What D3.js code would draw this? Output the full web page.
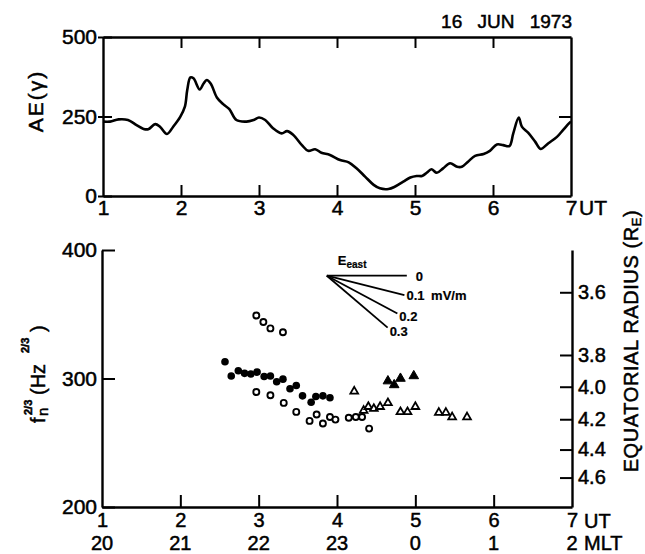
<!DOCTYPE html>
<html>
<head>
<meta charset="utf-8">
<script src="https://cdn.jsdelivr.net/npm/d3@7"></script>
<style>
  html, body { margin: 0; padding: 0; background: #fff; }
  svg { display: block; }
  text { font-family: "Liberation Sans", Arial, sans-serif; fill: #000; stroke: #000; stroke-width: 0.5px; }
</style>
</head>
<body>
<svg id="chart" width="645" height="554"></svg>
<script>
// ---------------- data ----------------
const titleText = "16 JUN 1973";

// AE index (gamma) versus UT (hours)
const aeUT  = [1.0,1.09,1.2,1.32,1.43,1.52,1.58,1.67,1.73,1.82,1.90,1.99,2.05,2.08,2.12,2.16,2.24,2.29,2.33,2.38,2.46,2.54,2.62,2.71,2.84,2.93,3.00,3.08,3.18,3.29,3.36,3.44,3.55,3.63,3.72,3.80,3.91,4.04,4.15,4.25,4.36,4.47,4.55,4.66,4.74,4.85,4.94,5.02,5.09,5.15,5.21,5.28,5.36,5.45,5.54,5.60,5.68,5.77,5.88,5.96,6.05,6.13,6.21,6.26,6.33,6.37,6.45,6.54,6.61,6.71,6.82,6.90,6.98,7.0];
const aeVal = [234,234,241,239,223,211,210,226,218,195,218,249,281,333,373,370,335,354,365,354,310,289,273,239,234,239,247,239,213,197,204,192,160,142,147,136,129,113,106,87,61,35,24,22,29,45,58,63,63,73,84,73,87,103,92,92,108,126,132,142,162,160,157,197,247,218,199,171,148,166,186,208,230,234];

// fn^(2/3) versus UT
const filledCircUT = [2.57,2.65,2.74,2.82,2.90,2.98,3.07,3.15,3.23,3.31,3.40,3.48,3.56,3.67,3.73,3.82,3.91];
const filledCircFn = [313,302,306,304,303.5,305,301.5,302,297.5,299.5,292,294.5,286.5,281.5,286,286.5,285];
const openCircUT   = [2.97,3.06,3.15,3.31,2.97,3.15,3.32,3.48,3.65,3.74,3.82,3.91,3.98,4.15,4.24,4.32,4.41];
const openCircFn   = [349,344,339,336,289.5,287,281,274,267,272,265,270,268,269.5,270,270,261];
const openTriUT    = [4.22,4.34,4.40,4.47,4.55,4.65,4.81,4.90,5.00,5.30,5.39,5.47,5.66];
const openTriFn    = [290,275,278,276.5,278,281,274,274,278,273.5,273.5,270,270];
const filledTriUT  = [4.65,4.73,4.81,4.98];
const filledTriFn  = [298,295,300,302];

// axis ticks
const utTicks   = [1,2,3,4,5,6,7];
const mltLabels = ["20","21","22","23","0","1","2"];
const aeTicks   = [0,250,500];
const fnTicks   = [200,300,400];
const radiusLabels = ["3.6","3.8","4.0","4.2","4.4","4.6"];
const radiusFn     = [367.1,318.3,293.6,268.3,244.7,222.9];

// E_east legend: drift slopes (fn^(2/3) per hour) and labels
const eLabels = ["0","0.1 mV/m","0.2","0.3"];
const eSlopes = [0,-15.3,-32.6,-52.1];
const eOrigin = [3.87, 380];

// ---------------- drawing ----------------
const svg = d3.select("#chart");
const AXW = 2.4;

const xTop = d3.scaleLinear().domain([1,7]).range([103,571]);
const yTop = d3.scaleLinear().domain([0,500]).range([196,37]);
const xBot = d3.scaleLinear().domain([1,7]).range([102,572]);
const yBot = d3.scaleLinear().domain([200,400]).range([507,250]);

function styleAxis(g, fs) {
  g.select(".domain").attr("stroke", "#000").attr("stroke-width", AXW);
  g.selectAll(".tick line").attr("stroke", "#000").attr("stroke-width", 2);
  g.selectAll(".tick text").attr("font-size", fs).attr("fill", "#000")
    .attr("font-family", "Liberation Sans, Arial, sans-serif");
}

// ---- top panel ----
const tb = svg.append("g").attr("transform", `translate(0,${yTop(0)})`)
  .call(d3.axisBottom(xTop).tickValues(utTicks).tickFormat(d3.format("d"))
        .tickSizeInner(-11).tickSizeOuter(0).tickPadding(4));
styleAxis(tb, 21);
tb.selectAll(".tick line").filter(d => d === 1 || d === 7).remove();

const tt = svg.append("g").attr("transform", `translate(0,${yTop(500)})`)
  .call(d3.axisTop(xTop).tickValues(utTicks.slice(1,-1)).tickFormat("")
        .tickSizeInner(-11).tickSizeOuter(0));
styleAxis(tt, 21);

const tl = svg.append("g").attr("transform", `translate(${xTop(1)},0)`)
  .call(d3.axisLeft(yTop).tickValues(aeTicks).tickFormat(d3.format("d"))
        .tickSizeInner(5).tickSizeOuter(0).tickPadding(1));
styleAxis(tl, 21);
tl.selectAll(".tick line").attr("x1", 9);

const tr = svg.append("g").attr("transform", `translate(${xTop(7)},0)`)
  .call(d3.axisRight(yTop).tickValues([250]).tickFormat("")
        .tickSizeInner(-12).tickSizeOuter(0));
styleAxis(tr, 21);

svg.append("text").attr("x", xTop(7) + 8).attr("y", 215)
  .attr("font-size", 21).text("UT");

// title
svg.append("text").attr("x", 572).attr("y", 28).attr("text-anchor", "end")
  .attr("font-size", 19).attr("word-spacing", 10).text(titleText);

// AE label
svg.append("text")
  .attr("transform", `translate(43,101) rotate(-90)`)
  .attr("text-anchor", "middle").attr("font-size", 21).attr("letter-spacing", 2)
  .text("AE(γ)");

// AE curve
const aeLine = d3.line()
  .x((d,i) => xTop(aeUT[i])).y(d => yTop(d))
  .curve(d3.curveCatmullRom.alpha(0.5));
svg.append("path").datum(aeVal).attr("d", aeLine)
  .attr("fill", "none").attr("stroke", "#000").attr("stroke-width", 2.6)
  .attr("stroke-linejoin", "round");

// ---- bottom panel ----
const bb = svg.append("g").attr("transform", `translate(0,${yBot(200)})`)
  .call(d3.axisBottom(xBot).tickValues(utTicks).tickFormat(d3.format("d"))
        .tickSizeInner(-12).tickSizeOuter(0).tickPadding(6));
styleAxis(bb, 20);
bb.selectAll(".tick line").filter(d => d === 1 || d === 7).remove();

svg.append("g").selectAll("text").data(utTicks).join("text")
  .attr("x", d => xBot(d)).attr("y", 550).attr("text-anchor", "middle")
  .attr("font-size", 20).text((d,i) => mltLabels[i]);

svg.append("text").attr("x", xBot(7) + 12).attr("y", 528)
  .attr("font-size", 20).text("UT");
svg.append("text").attr("x", xBot(7) + 12).attr("y", 550)
  .attr("font-size", 20).text("MLT");

const bl = svg.append("g").attr("transform", `translate(${xBot(1)},0)`)
  .call(d3.axisLeft(yBot).tickValues(fnTicks).tickFormat(d3.format("d"))
        .tickSizeInner(-13).tickSizeOuter(0).tickPadding(5));
styleAxis(bl, 21);

const br = svg.append("g").attr("transform", `translate(${xBot(7)},0)`)
  .call(d3.axisRight(yBot).tickValues(radiusFn).tickFormat((d,i) => radiusLabels[i])
        .tickSizeInner(-12).tickSizeOuter(0).tickPadding(6));
styleAxis(br, 20);

// left label f_n^(2/3) (Hz^(2/3))
const fl = svg.append("g").attr("transform", "translate(45,374) rotate(-90)");
fl.append("text").attr("x", -49).attr("y", 0).attr("font-size", 20).text("f");
fl.append("text").attr("x", -42).attr("y", 3).attr("font-size", 15).text("n");
fl.append("text").attr("x", -41).attr("y", -13).attr("font-size", 11).attr("font-weight", "bold").text("2/3");
fl.append("text").attr("x", -21).attr("y", 0).attr("font-size", 20).text("(Hz");
fl.append("text").attr("x", 21).attr("y", -16).attr("font-size", 11).attr("font-weight", "bold").text("2/3");
fl.append("text").attr("x", 42).attr("y", 0).attr("font-size", 20).text(")");

// right label
const rl = svg.append("text")
  .attr("transform", "translate(638,341) rotate(-90)")
  .attr("text-anchor", "middle").attr("font-size", 20).attr("letter-spacing", 0.6);
rl.append("tspan").text("EQUATORIAL  RADIUS  (R");
rl.append("tspan").attr("font-size", 13).attr("dy", 3).text("E");
rl.append("tspan").attr("dy", -3).text(")");

// scatter symbols
function pts(ut, fn) { return ut.map((u,i) => [xBot(u), yBot(fn[i])]); }
const gS = svg.append("g");
gS.selectAll(".oc").data(pts(openCircUT, openCircFn)).join("circle")
  .attr("cx", d => d[0]).attr("cy", d => d[1]).attr("r", 3)
  .attr("fill", "#fff").attr("stroke", "#000").attr("stroke-width", 1.9);
gS.selectAll(".fc").data(pts(filledCircUT, filledCircFn)).join("circle")
  .attr("cx", d => d[0]).attr("cy", d => d[1]).attr("r", 3.8).attr("fill", "#000");
const triOpen = d3.symbol().type(d3.symbolTriangle).size(26);
const triFill = d3.symbol().type(d3.symbolTriangle).size(40);
gS.selectAll(".ot").data(pts(openTriUT, openTriFn)).join("path")
  .attr("transform", d => `translate(${d[0]},${d[1]})`).attr("d", triOpen)
  .attr("fill", "#fff").attr("stroke", "#000").attr("stroke-width", 1.8);
gS.selectAll(".ft").data(pts(filledTriUT, filledTriFn)).join("path")
  .attr("transform", d => `translate(${d[0]},${d[1]})`).attr("d", triFill)
  .attr("fill", "#000").attr("stroke", "#000").attr("stroke-width", 1);

// E_east legend fan
const ox = xBot(eOrigin[0]), oy = yBot(eOrigin[1]);
const LEN = 80;
const gL = svg.append("g");
const et = gL.append("text").attr("x", ox + 11).attr("y", oy - 11)
  .attr("font-size", 13).attr("font-weight", "bold").style("stroke-width", "0.2px");
et.append("tspan").text("E");
et.append("tspan").attr("font-size", 10).attr("dy", 3).text("east");
eSlopes.forEach((s, i) => {
  const dx = xBot(eOrigin[0] + 1) - ox;
  const dy = yBot(eOrigin[1] + s) - oy;
  const n = Math.hypot(dx, dy);
  const ex = ox + dx / n * LEN, ey = oy + dy / n * LEN;
  gL.append("line").attr("x1", ox).attr("y1", oy).attr("x2", ex).attr("y2", ey)
    .attr("stroke", "#000").attr("stroke-width", 1.8);
  gL.append("text").attr("x", ex + (i === 0 ? 9 : 2)).attr("y", ey + (i < 2 ? 5 : 8))
    .attr("font-size", 13).attr("font-weight", "bold").attr("word-spacing", 3)
    .style("stroke-width", "0.2px")
    .text(eLabels[i]);
});
</script>
</body>
</html>
